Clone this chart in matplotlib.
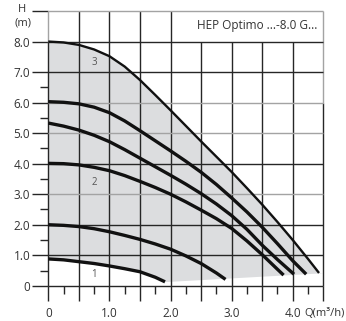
import matplotlib
matplotlib.use('Agg')
import matplotlib.pyplot as plt
import numpy as np

plt.rcParams['font.family'] = ['Open Sans', 'DejaVu Sans']

# ---------------- data ----------------
q_8m = [0, 0.25, 0.5, 0.75, 1.0, 1.25, 1.5, 1.75, 2.0, 2.25, 2.5, 2.75, 3.0, 3.25, 3.5, 3.75, 4.0, 4.25, 4.43]
h_8m = [8.0, 7.97, 7.89, 7.74, 7.52, 7.18, 6.74, 6.25, 5.75, 5.24, 4.73, 4.23, 3.73, 3.2, 2.66, 2.09, 1.5, 0.88, 0.42]

q_6m = [0, 0.25, 0.5, 0.75, 1.0, 1.25, 1.5, 1.75, 2.0, 2.25, 2.5, 2.75, 3.0, 3.25, 3.5, 3.75, 4.0, 4.22]
h_6m = [6.03, 6.01, 5.96, 5.85, 5.67, 5.4, 5.08, 4.75, 4.42, 4.08, 3.72, 3.32, 2.88, 2.42, 1.92, 1.38, 0.82, 0.38]

q_5m = [0, 0.25, 0.5, 0.75, 1.0, 1.25, 1.5, 1.75, 2.0, 2.25, 2.5, 2.75, 3.0, 3.25, 3.5, 3.75, 4.02]
h_5m = [5.33, 5.23, 5.1, 4.93, 4.72, 4.46, 4.18, 3.9, 3.62, 3.33, 3.02, 2.68, 2.3, 1.85, 1.33, 0.86, 0.38]

q_4m = [0, 0.25, 0.5, 0.75, 1.0, 1.25, 1.5, 1.75, 2.0, 2.25, 2.5, 2.75, 3.0, 3.25, 3.5, 3.75, 3.85]
h_4m = [4.01, 4.0, 3.96, 3.88, 3.77, 3.61, 3.42, 3.22, 3.0, 2.75, 2.48, 2.2, 1.88, 1.47, 1.02, 0.54, 0.35]

q_2m = [0, 0.25, 0.5, 0.75, 1.0, 1.25, 1.5, 1.75, 2.0, 2.25, 2.5, 2.75, 2.9]
h_2m = [2.0, 1.98, 1.94, 1.87, 1.77, 1.65, 1.52, 1.37, 1.2, 0.98, 0.73, 0.42, 0.21]

q_1m = [0, 0.25, 0.5, 0.75, 1.0, 1.25, 1.5, 1.75, 1.91]
h_1m = [0.88, 0.85, 0.79, 0.73, 0.65, 0.56, 0.46, 0.28, 0.13]

# lower edge of the shaded operating range
lower_q = [1.91, 4.5]
lower_h = [0.12, 0.41]

curve_labels = ['1', '2', '3']
label_q = [0.75, 0.75, 0.75]
label_h = [0.38, 3.39, 7.3]

x_tick_pos = [0, 1, 2, 3, 4]
x_tick_labels = ['0', '1.0', '2.0', '3.0', '4.0']
y_tick_pos = [0, 1, 2, 3, 4, 5, 6, 7, 8]
y_tick_labels = ['0', '1.0', '2.0', '3.0', '4.0', '5.0', '6.0', '7.0', '8.0']

title = 'HEP Optimo ...-8.0 G...'
x_unit = 'Q(m³/h)'
y_name = 'H'
y_unit = '(m)'

# ---------------- styling ----------------
W, H = 346, 321
DARK = '#262626'
GRAY = '#a3a3a3'
FILL = '#dcdddf'
TXT = '#333333'
gray_rows = [3, 5, 6, 9]

fig = plt.figure(figsize=(W / 100, H / 100), dpi=100)
ax = fig.add_axes([48.3 / W, 1 - 285.8 / H, 275.0 / W, 274.8 / H])
ax.set_xlim(0, 4.5)
ax.set_ylim(0, 9)
for s in ax.spines.values():
    s.set_visible(False)

# shaded region
fx = list(q_8m) + [lower_q[-1], lower_q[0]] + list(q_1m[::-1])
fy = list(h_8m) + [lower_h[-1], lower_h[0]] + list(h_1m[::-1])
ax.fill(fx, fy, color=FILL, lw=0, zorder=1)

# grid lines
major_x = np.arange(0, 4.51, 0.5)
minor_x = np.arange(0.25, 4.3, 0.5)
major_y = np.arange(0, 9.1, 1)
minor_y = np.arange(0.5, 6.6, 1)

glw = 1.0
for qv in major_x[1:-1]:
    top = 9 if qv <= 2.0 else 8
    ax.vlines(qv, 0, top, color=DARK, lw=glw, zorder=2, clip_on=False)
ax.vlines(0, 0, 8, color=DARK, lw=glw, zorder=2, clip_on=False)
ax.vlines(0, 8, 9, color=GRAY, lw=glw, zorder=2, clip_on=False)
ax.vlines(4.5, 0, 6, color=DARK, lw=glw, zorder=2, clip_on=False)
ax.vlines(4.5, 6, 9, color=GRAY, lw=glw, zorder=2, clip_on=False)
for hv in major_y:
    c = GRAY if hv in gray_rows else DARK
    ax.hlines(hv, 0, 4.5, color=c, lw=glw, zorder=2, clip_on=False)

# ticks (extensions of the grid outside the plot)
x_lab_map = dict(zip(x_tick_pos, x_tick_labels))
ax.set_xticks(major_x)
ax.set_xticklabels([x_lab_map.get(round(v, 2), '') for v in major_x])
ax.set_xticks(minor_x, minor=True)
y_lab_map = dict(zip(y_tick_pos, y_tick_labels))
ax.set_yticks(major_y)
ax.set_yticklabels([y_lab_map.get(int(v), '') for v in major_y])
ax.set_yticks(minor_y, minor=True)

ax.tick_params(axis='x', which='major', length=11, width=glw, color=DARK,
               pad=4, labelsize=8.5, labelcolor=TXT)
ax.tick_params(axis='x', which='minor', length=5.4, width=glw, color=DARK)
ax.tick_params(axis='y', which='major', length=11.5, width=glw, color=DARK,
               pad=1.5, labelsize=8.5, labelcolor=TXT)
ax.tick_params(axis='y', which='minor', length=5.8, width=glw, color=DARK)
for t, v in zip(ax.yaxis.get_major_ticks(), major_y):
    if v in gray_rows:
        t.tick1line.set_color(GRAY)

# curves
ax.plot(q_8m, h_8m, color='#111111', lw=1.7, zorder=3, solid_capstyle='butt')
for qs, hs in [(q_6m, h_6m), (q_5m, h_5m), (q_4m, h_4m), (q_2m, h_2m), (q_1m, h_1m)]:
    ax.plot(qs, hs, color='#111111', lw=2.4, zorder=3, solid_capstyle='butt')

for lab, lq, lh in zip(curve_labels, label_q, label_h):
    ax.text(lq, lh, lab, fontsize=7, color='#555555', ha='center', va='center', zorder=4)

# title box text
ax.text(4.41, 8.53, title, fontsize=8.5, color=TXT, ha='right', va='center', zorder=4)

# axis names
ax.text(4.52, -0.9, x_unit, fontsize=8, color=TXT, ha='center', va='center', clip_on=False)
fig.text(21.7 / W, 1 - 9 / H, y_name, fontsize=8, color=TXT, ha='center', va='center')
fig.text(23.5 / W, 1 - 23 / H, y_unit, fontsize=8, color=TXT, ha='center', va='center')

fig.savefig('out.png', dpi=100, facecolor='white')
